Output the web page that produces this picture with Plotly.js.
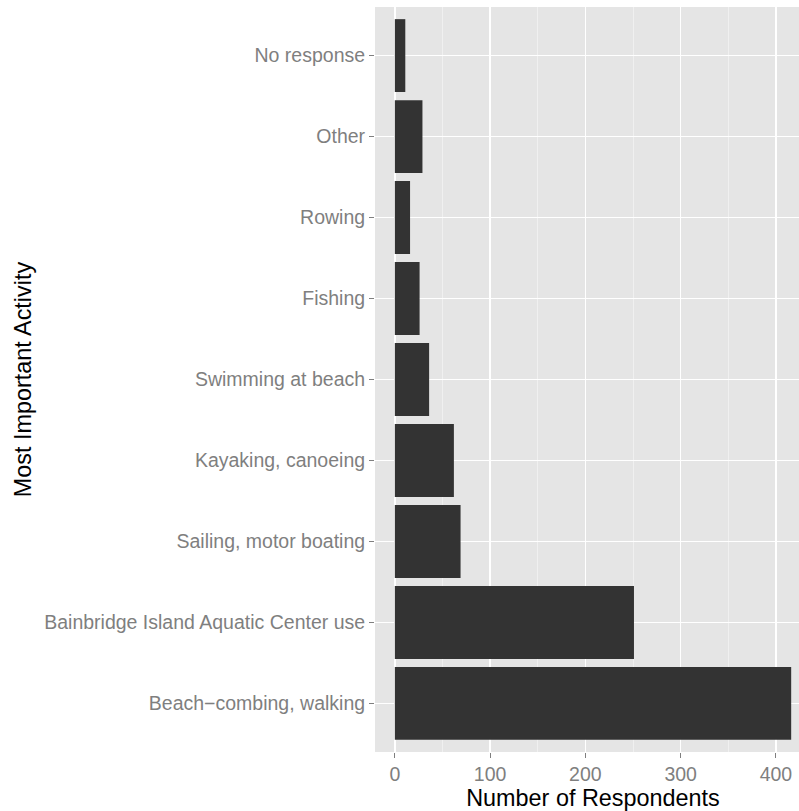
<!DOCTYPE html>
<html>
<head>
<meta charset="utf-8">
<script src="https://cdn.plot.ly/plotly-3.0.1.min.js"></script>
<style>
html, body { margin: 0; padding: 0; overflow: hidden; background: #ffffff; }
#chart { width: 811px; height: 811px; }
</style>
</head>
<body>
<div id="chart"></div>
<script>
// Categories, bottom to top
var activities = [
  "Beach\u2212combing, walking",
  "Bainbridge Island Aquatic Center use",
  "Sailing, motor boating",
  "Kayaking, canoeing",
  "Swimming at beach",
  "Fishing",
  "Rowing",
  "Other",
  "No response"
];
var respondents = [416, 251, 69, 62, 36, 26, 16, 29, 11];

var xTickVals = [0, 100, 200, 300, 400];
var xTickText = ["0", "100", "200", "300", "400"];

var xTitle = "Number of Respondents";
var yTitle = "Most Important Activity";

var data = [{
  type: "bar",
  orientation: "h",
  x: respondents,
  y: activities,
  width: 0.9,
  marker: { color: "#333333", line: { width: 0 } },
  hoverinfo: "x+y"
}];

var layout = {
  width: 811,
  height: 811,
  margin: { l: 375, r: 0, t: 7, b: 59, pad: 0 },
  paper_bgcolor: "#ffffff",
  plot_bgcolor: "#E5E5E5",
  font: { family: "Liberation Sans, Arial, sans-serif", color: "#7F7F7F" },
  showlegend: false,
  bargap: 0.1,
  xaxis: {
    range: [-20.8, 436.8],
    tickmode: "array",
    tickvals: xTickVals,
    ticktext: xTickText,
    ticks: "outside",
    ticklen: 5,
    tickwidth: 1,
    tickcolor: "#7F7F7F",
    tickfont: { size: 19.5, color: "#7F7F7F" },
    showgrid: true,
    gridcolor: "#FFFFFF",
    gridwidth: 1.6,
    minor: { tickvals: [50, 150, 250, 350], showgrid: true, gridcolor: "#F2F2F2", gridwidth: 0.8, ticks: "" },
    zeroline: false,
    showline: false,
    title: { text: xTitle, font: { size: 23.4, color: "#000000" }, standoff: 2 }
  },
  yaxis: {
    type: "category",
    categoryorder: "array",
    categoryarray: activities,
    range: [-0.6, 8.6],
    ticks: "outside",
    ticklen: 5,
    tickwidth: 1,
    tickcolor: "#7F7F7F",
    tickfont: { size: 19.5, color: "#7F7F7F" },
    showgrid: true,
    gridcolor: "#FFFFFF",
    gridwidth: 1.6,
    zeroline: false,
    showline: false,
    title: { text: yTitle, font: { size: 23.4, color: "#000000" }, standoff: 6 }
  }
};

Plotly.newPlot("chart", data, layout, { displayModeBar: false, staticPlot: true });
</script>
</body>
</html>
